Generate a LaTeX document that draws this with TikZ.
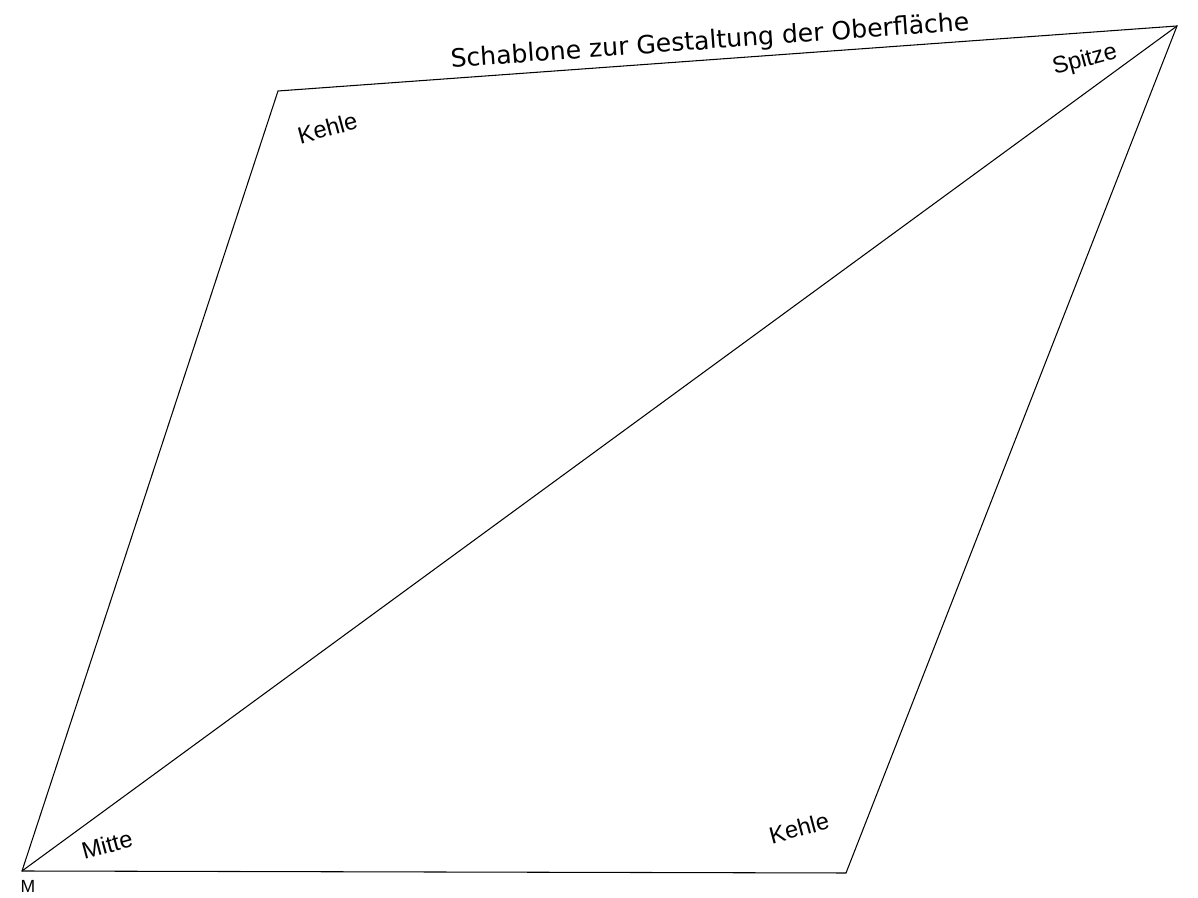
\documentclass[tikz,border=0pt]{standalone}
\usepackage{fontspec}
\setmainfont{Liberation Sans}
\newfontfamily\titlefont{DejaVu Sans}
\usepackage{tikz}
\usetikzlibrary{positioning}

\begin{document}
\begin{tikzpicture}[
	thin,
	font=\fontsize{13.5}{15}\selectfont
]
\tikzset{
    mylabel/.style = {inner sep=0pt, rotate=15},
    myedge/.style = {draw=black, line width=0.6pt, line join=miter}
}
\useasboundingbox (0,0) rectangle (23.96,17.96);
\coordinate (mid) at (0.44,0.54);
\coordinate (kehleA) at (5.56,16.14);
\coordinate (tip) at (23.54,17.44);
\coordinate (kehleB) at (16.92,0.50);
\draw[myedge] (mid) -- (kehleA) -- (tip) -- (kehleB) -- cycle;
\draw[myedge] (mid) -- (tip);
\node[rotate=4.1,inner sep=0pt,font=\titlefont\fontsize{14.3}{17}\selectfont] (title) at (14.2,17.12) {Schablone zur Gestaltung der Oberfläche};
\node[mylabel] (kehleAlbl) at (6.55,15.40) {Kehle};
\node[mylabel] (spitzelbl) at (21.70,16.75) {Spitze};
\node[mylabel] (mittelbl) at (2.14,1.06) {Mitte};
\node[mylabel] (kehleBlbl) at (15.98,1.40) {Kehle};
\node[inner sep=0pt,font=\fontsize{10}{12}\selectfont] (mlbl) at (0.56,0.24) {M};
\end{tikzpicture}
\end{document}
